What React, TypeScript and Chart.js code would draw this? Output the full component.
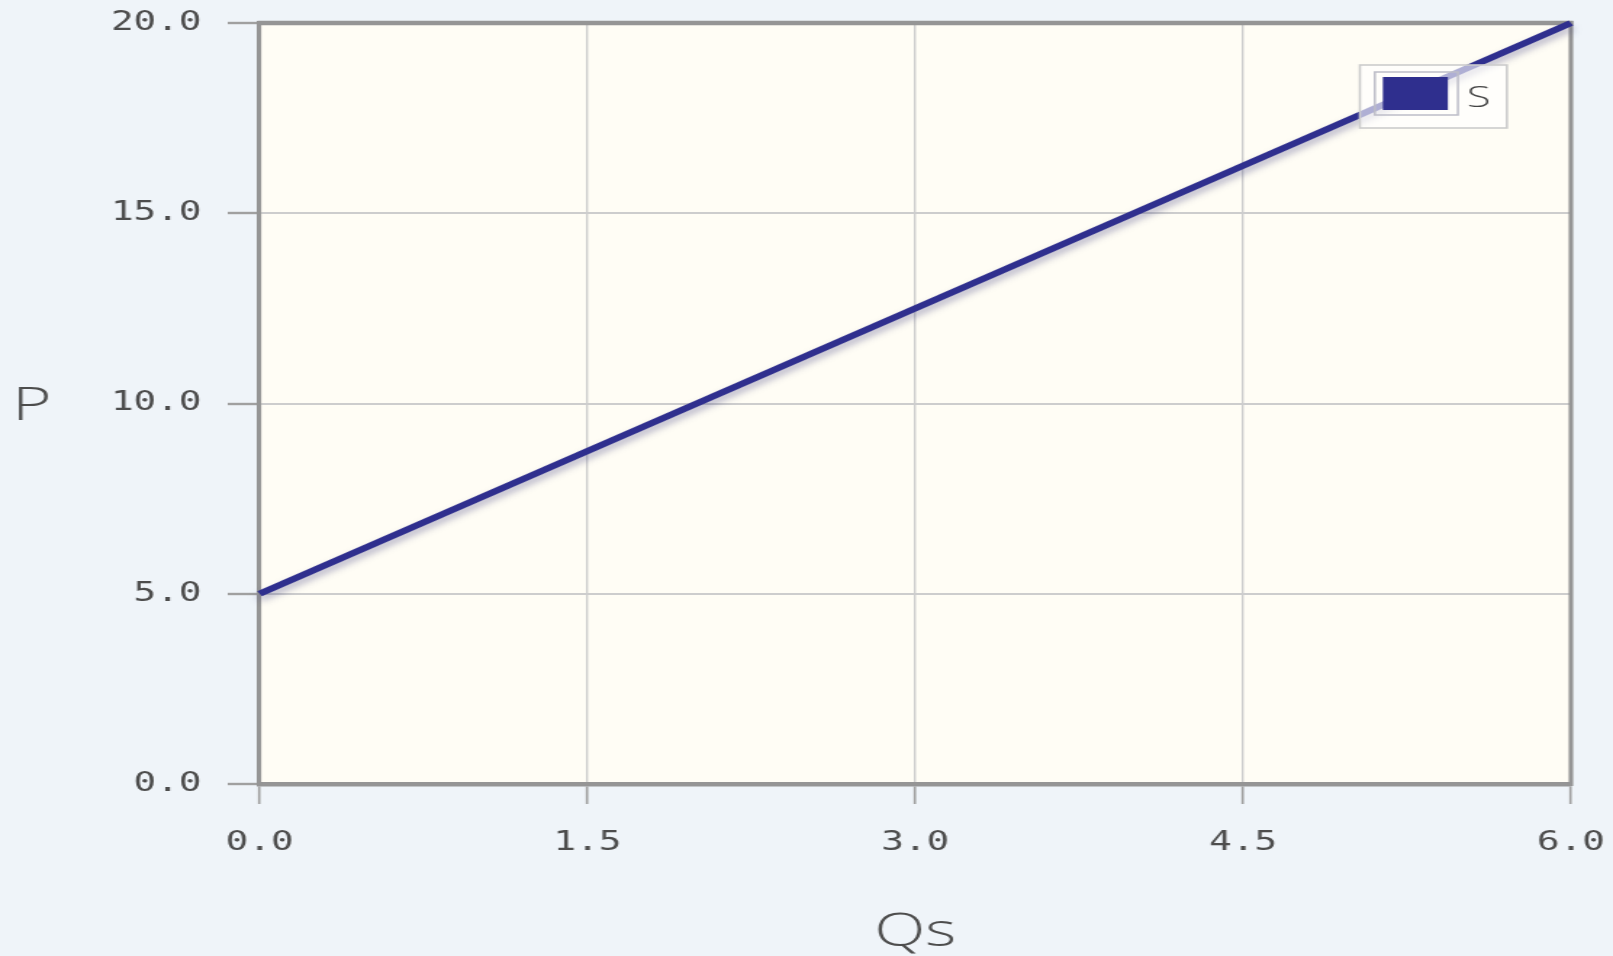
import React, { useEffect, useRef } from 'react';
import { Chart, registerables } from 'chart.js';

Chart.register(...registerables);

// ---- data ----
const qsValues = [0, 6];
const pValues = [5, 20];
const xTickValues = [0, 1.5, 3, 4.5, 6];
const yTickValues = [0, 5, 10, 15, 20];
const seriesLabel = 'S';
const xTitle = 'Qs';
const yTitle = 'P';

// ---- look ----
const S = 1.45; // horizontal stretch of the drawing (wide glyph look)
const CSS_W = 1613;
const H = 956;
const W = Math.round(CSS_W / S);

const PAGE_BG = '#eff4f9';
const PLOT_BG = '#fffdf5';
const FRAME = '#959595';
const GRID = '#cdcdcd';
const TICK = '#a0a0a0';
const TEXT = '#4d4d4d';
const LINE = '#2f2f8e';

const tickFont = { family: '"DejaVu Sans Mono", monospace', size: 26 };

const decorPlugin = {
  id: 'decor',
  beforeDraw(chart: any) {
    const { ctx, chartArea: ca } = chart;
    ctx.save();
    ctx.fillStyle = PAGE_BG;
    ctx.fillRect(0, 0, chart.width, chart.height);
    ctx.fillStyle = PLOT_BG;
    ctx.fillRect(ca.left, ca.top, ca.right - ca.left, ca.bottom - ca.top);
    ctx.restore();
  },
  beforeDatasetsDraw(chart: any) {
    const { ctx, chartArea: ca } = chart;
    ctx.save();
    ctx.strokeStyle = FRAME;
    ctx.lineWidth = 4.5;
    ctx.beginPath();
    ctx.moveTo(ca.left - 1.5, ca.top);
    ctx.lineTo(ca.right + 1.5, ca.top);
    ctx.stroke();
    ctx.lineWidth = 4.5 / S;
    ctx.beginPath();
    ctx.moveTo(ca.right, ca.top - 2);
    ctx.lineTo(ca.right, ca.bottom + 2);
    ctx.stroke();
    ctx.restore();
  },
  beforeDatasetDraw(chart: any) {
    const ctx = chart.ctx;
    ctx.save();
    ctx.shadowColor = 'rgba(70,70,130,0.4)';
    ctx.shadowBlur = 6;
    ctx.shadowOffsetX = 0;
    ctx.shadowOffsetY = 5;
  },
  afterDatasetDraw(chart: any) {
    chart.ctx.restore();
  },
  afterDraw(chart: any) {
    const { ctx, chartArea: ca } = chart;
    ctx.save();
    // axis titles
    ctx.fillStyle = TEXT;
    ctx.font = '300 46px "Open Sans", "Noto Sans", sans-serif';
    ctx.textAlign = 'center';
    ctx.textBaseline = 'alphabetic';
    ctx.fillText(yTitle, 32 / S, (ca.top + ca.bottom) / 2 + 16);
    ctx.fillText(xTitle, (ca.left + ca.right) / 2, 946);

    // legend
    const ds = chart.data.datasets[0];
    const right = ca.right - 64 / S;
    const left = right - 147 / S;
    const top = ca.top + 42;
    ctx.fillStyle = 'rgba(255,255,255,0.62)';
    ctx.fillRect(left, top, right - left, 63);
    ctx.strokeStyle = '#cccccc';
    ctx.lineWidth = 1.6;
    ctx.strokeRect(left, top, right - left, 63);
    ctx.strokeStyle = '#bdbdc8';
    ctx.lineWidth = 1.5;
    ctx.strokeRect(left + 15 / S, top + 7, 83 / S, 43);
    ctx.fillStyle = ds.borderColor;
    ctx.fillRect(left + 23 / S, top + 12, 65 / S, 33);
    ctx.fillStyle = '#444444';
    ctx.font = '300 30px "Open Sans", "Noto Sans", sans-serif';
    ctx.textAlign = 'left';
    ctx.fillText(ds.label, left + 107 / S, top + 42);
    ctx.restore();
  },
};

export default function App() {
  const ref = useRef<HTMLCanvasElement | null>(null);

  useEffect(() => {
    document.body.style.margin = '0';
    document.body.style.background = PAGE_BG;
    const canvas = ref.current;
    if (!canvas) return;
    const chart = new Chart(canvas, {
      type: 'line',
      data: {
        datasets: [
          {
            label: seriesLabel,
            data: qsValues.map((x, i) => ({ x, y: pValues[i] })),
            borderColor: LINE,
            backgroundColor: LINE,
            borderWidth: 6,
            pointRadius: 0,
            fill: false,
            tension: 0,
            clip: 8,
          } as any,
        ],
      },
      options: {
        responsive: false,
        animation: false,
        devicePixelRatio: 1,
        events: [],
        layout: { padding: { top: 23, right: 29, left: 0, bottom: 0 } },
        plugins: {
          legend: { display: false },
          tooltip: { enabled: false },
        },
        scales: {
          x: {
            type: 'linear',
            min: 0,
            max: 6,
            afterBuildTicks: (scale: any) => {
              scale.ticks = xTickValues.map((v) => ({ value: v }));
            },
            afterFit: (scale: any) => {
              scale.height = 172;
              scale.paddingLeft = 0;
              scale.paddingRight = 0;
            },
            ticks: {
              callback: (v: any) => Number(v).toFixed(1),
              font: tickFont,
              color: TEXT,
              padding: 24,
              maxRotation: 0,
              autoSkip: false,
            },
            grid: {
              color: GRID,
              lineWidth: 2 / S,
              tickLength: 20,
              tickColor: TICK,
              tickWidth: 2.4 / S,
            },
            border: { color: FRAME, width: 4.5 },
          },
          y: {
            type: 'linear',
            min: 0,
            max: 20,
            afterBuildTicks: (scale: any) => {
              scale.ticks = yTickValues.map((v) => ({ value: v }));
            },
            afterFit: (scale: any) => {
              scale.width = 179;
              scale.paddingTop = 0;
              scale.paddingBottom = 0;
            },
            ticks: {
              callback: (v: any) => Number(v).toFixed(1),
              font: tickFont,
              color: TEXT,
              padding: 18,
              autoSkip: false,
            },
            grid: {
              color: GRID,
              lineWidth: 2,
              tickLength: 22,
              tickColor: TICK,
              tickWidth: 2.4,
            },
            border: { color: FRAME, width: 4.5 / S },
          },
        },
      } as any,
      plugins: [decorPlugin],
    });
    return () => chart.destroy();
  }, []);

  return (
    <div style={{ width: CSS_W, height: H, background: PAGE_BG }}>
      <canvas
        ref={ref}
        width={W}
        height={H}
        style={{ display: 'block', width: CSS_W + 'px', height: H + 'px' }}
      />
    </div>
  );
}
